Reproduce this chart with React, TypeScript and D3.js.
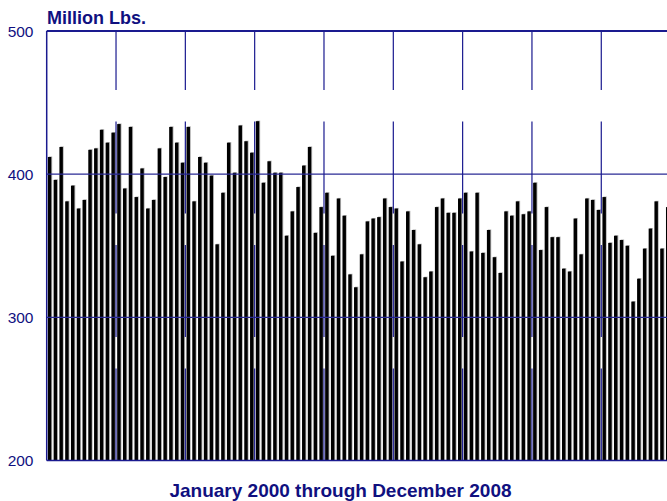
import React from "react";
import * as d3 from "d3";

const years = ["2000", "2001", "2002", "2003", "2004", "2005", "2006", "2007", "2008"];
const monthNames = ["Jan", "Feb", "Mar", "Apr", "May", "Jun", "Jul", "Aug", "Sep", "Oct", "Nov", "Dec"];
const months = years.flatMap((y) => monthNames.map((m) => `${m} ${y}`));

const values = [
  412, 396, 419, 381, 392, 376, 382, 417, 418, 431, 422, 429,
  435, 390, 433, 384, 404, 376, 382, 418, 398, 433, 422, 408,
  433, 381, 412, 408, 399, 351, 387, 422, 401, 434, 423, 415,
  437, 394, 409, 401, 401, 357, 374, 391, 406, 419, 359, 377,
  387, 343, 383, 371, 330, 321, 344, 367, 369, 370, 383, 377,
  376, 339, 374, 361, 351, 328, 332, 377, 383, 373, 373, 383,
  387, 346, 387, 345, 361, 342, 331, 374, 371, 381, 372, 374,
  394, 347, 377, 356, 356, 334, 332, 369, 344, 383, 382, 375,
  384, 352, 357, 354, 350, 311, 327, 348, 362, 381, 348, 377,
];

const yTicks = [200, 300, 400, 500];
const title = "Million Lbs.";
const xTitle = "January 2000 through December 2008";

const W = 667;
const H = 501;
const left = 46.7;
const right = 670.6;
const top = 31;
const bottom = 460.5;
const navy = "#10107f";

export default function App() {
  const x = d3
    .scaleBand<string>()
    .domain(months)
    .range([left, right])
    .paddingInner(0.4)
    .paddingOuter(0.2);
  const xi = d3.scaleLinear().domain([0, months.length]).range([left, right]);
  const y = d3.scaleLinear().domain([200, 500]).range([bottom, top]);
  const bw = x.bandwidth();
  const yearStarts = d3.range(1, years.length).map((k) => k * 12);

  return (
    <svg
      width={W}
      height={H}
      style={{ position: "absolute", left: 0, top: 0, overflow: "hidden", background: "#fff" }}
      fontFamily="Arial, 'Liberation Sans', sans-serif"
    >
      <rect x={0} y={0} width={W} height={H} fill="#fff" />
      {values.map((v, i) => {
        const bx = x(months[i]) as number;
        const by = y(v);
        return (
          <g key={i}>
            <rect x={bx + 0.9} y={by - 0.6} width={bw} height={bottom - by + 0.6} fill="#b8b8b8" />
            <rect x={bx} y={by} width={bw} height={bottom - by} fill="#000" />
          </g>
        );
      })}
      {yTicks.slice(1, -1).map((t) => (
        <line key={t} x1={left} x2={W} y1={y(t)} y2={y(t)} stroke="#2a2a95" strokeWidth={1.2} />
      ))}
      {yearStarts.map((k) => (
        <line
          key={k}
          x1={xi(k)}
          x2={xi(k)}
          y1={bottom}
          y2={top}
          stroke="#1a1a8f"
          strokeWidth={1.2}
          strokeDasharray="92 31.5"
        />
      ))}
      <line x1={left} x2={W} y1={top} y2={top} stroke="#1a1a8f" strokeWidth={2} />
      <line x1={left} x2={W} y1={bottom} y2={bottom} stroke="#1a1a8f" strokeWidth={1.5} />
      <line x1={left} x2={left} y1={top} y2={bottom} stroke="#1a1a8f" strokeWidth={1.5} />
      {yTicks.map((t) => (
        <text key={t} x={33.5} y={y(t) + 5.5} textAnchor="end" fontSize={15.5} fill={navy}>
          {t}
        </text>
      ))}
      <text x={47} y={24} fontSize={18} fontWeight="bold" fill={navy}>
        {title}
      </text>
      <text x={340.5} y={497} textAnchor="middle" fontSize={19} fontWeight="bold" fill={navy}>
        {xTitle}
      </text>
    </svg>
  );
}
